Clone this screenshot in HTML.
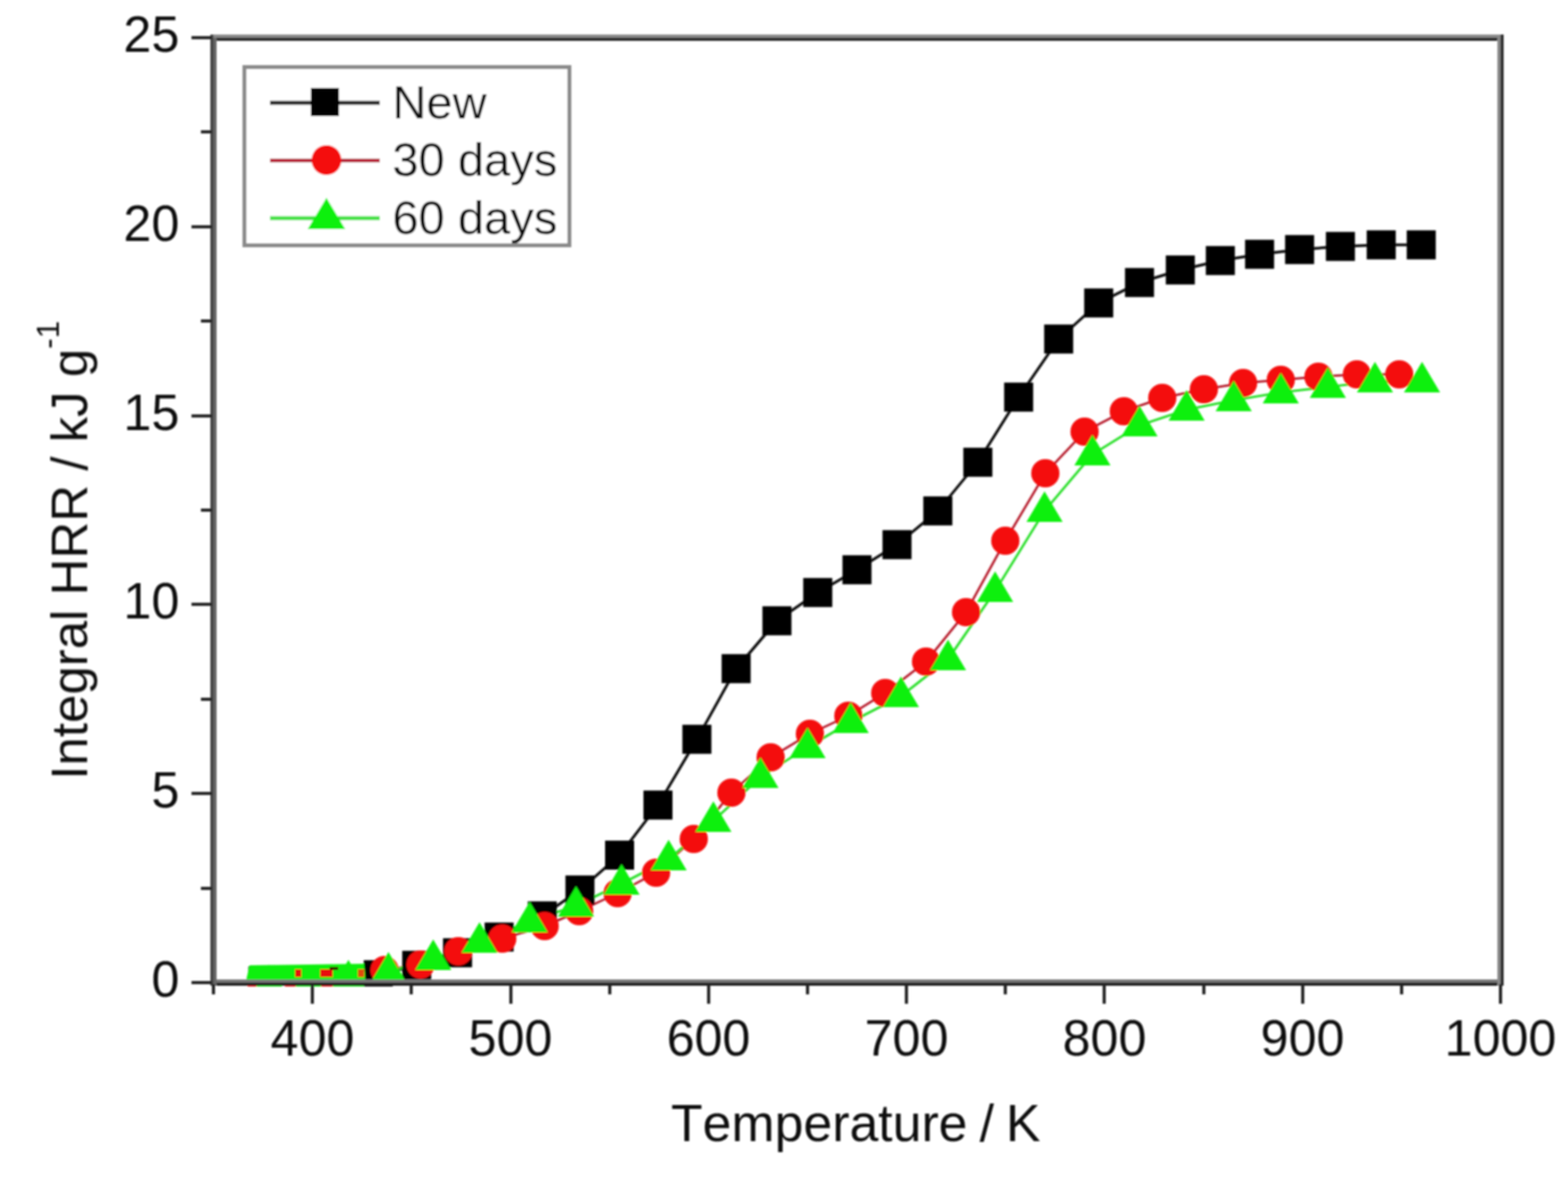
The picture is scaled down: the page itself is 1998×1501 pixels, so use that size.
<!DOCTYPE html><html><head><meta charset="utf-8"><title>Integral HRR vs Temperature</title>
<style>html,body{margin:0;padding:0;background:#fff;}svg{display:block;}text{font-family:"Liberation Sans",Arial,sans-serif;fill:#111;font-kerning:none;}</style></head><body>
<svg width="1998" height="1501" viewBox="0 0 1998 1501">
<rect x="0" y="0" width="1998" height="1501" fill="#fff"/>
<defs><clipPath id="pc"><rect x="250" y="40" width="1680" height="1217"/></clipPath><filter id="soft" filterUnits="userSpaceOnUse" x="0" y="0" width="1998" height="1501"><feGaussianBlur stdDeviation="0.8"/></filter></defs>
<g filter="url(#soft)">
<g clip-path="url(#pc)" fill="none" stroke-linejoin="round">
<polyline points="335,1250 383,1250 429,1249 482,1242 531,1230 583,1214 636,1194 691,1167 739,1134 789.5,1089.6 838.4,1025.8 888,942 938,852 990,791 1042,755 1092,726 1143,694 1195,651 1246,589 1298,506 1349,432 1400,386 1452,360 1504,344 1555,332 1605,324 1656,318 1708,314 1760,312 1811,312" stroke="#111" stroke-width="3.5"/>
<polyline points="333,1252 380,1250 418,1248 490,1236 536,1229 584,1212 640,1196 694,1180 738,1161 787,1138 836,1112 884,1069 932,1010 982,965 1032,935 1081,912 1128,883 1180,843 1231,780 1281,689 1332,603 1382,550 1432,524 1481,507 1534,496 1584,488 1632,484 1680,480 1729,477 1783,477" stroke="#b82030" stroke-width="3"/>
<polyline points="343,1254 393,1254 444,1248 495,1238 552,1222 611,1200 675,1174 734,1154 792,1126 852,1095 909,1046 969,990 1029,952 1084,920 1148,887 1208,840 1268,753 1331,651 1392,579 1452,542 1512,522 1572,510 1632,500 1692,493 1752,486 1812,486" stroke="#30e030" stroke-width="3.2"/>
</g>
<g clip-path="url(#pc)">
<g fill="#050505"><rect x="316.5" y="1231.5" width="37" height="37"/><rect x="364.5" y="1231.5" width="37" height="37"/><rect x="410.5" y="1230.5" width="37" height="37"/><rect x="463.5" y="1223.5" width="37" height="37"/><rect x="512.5" y="1211.5" width="37" height="37"/><rect x="564.5" y="1195.5" width="37" height="37"/><rect x="617.5" y="1175.5" width="37" height="37"/><rect x="672.5" y="1148.5" width="37" height="37"/><rect x="720.5" y="1115.5" width="37" height="37"/><rect x="771" y="1071.1" width="37" height="37"/><rect x="819.9" y="1007.3" width="37" height="37"/><rect x="869.5" y="923.5" width="37" height="37"/><rect x="919.5" y="833.5" width="37" height="37"/><rect x="971.5" y="772.5" width="37" height="37"/><rect x="1023.5" y="736.5" width="37" height="37"/><rect x="1073.5" y="707.5" width="37" height="37"/><rect x="1124.5" y="675.5" width="37" height="37"/><rect x="1176.5" y="632.5" width="37" height="37"/><rect x="1227.5" y="570.5" width="37" height="37"/><rect x="1279.5" y="487.5" width="37" height="37"/><rect x="1330.5" y="413.5" width="37" height="37"/><rect x="1381.5" y="367.5" width="37" height="37"/><rect x="1433.5" y="341.5" width="37" height="37"/><rect x="1485.5" y="325.5" width="37" height="37"/><rect x="1536.5" y="313.5" width="37" height="37"/><rect x="1586.5" y="305.5" width="37" height="37"/><rect x="1637.5" y="299.5" width="37" height="37"/><rect x="1689.5" y="295.5" width="37" height="37"/><rect x="1741.5" y="293.5" width="37" height="37"/><rect x="1792.5" y="293.5" width="37" height="37"/></g>
<g fill="#f40a0a"><circle cx="333" cy="1252" r="18"/><circle cx="380" cy="1250" r="18"/><circle cx="418" cy="1248" r="18"/><circle cx="490" cy="1236" r="18"/><circle cx="536" cy="1229" r="18"/><circle cx="584" cy="1212" r="18"/><circle cx="640" cy="1196" r="18"/><circle cx="694" cy="1180" r="18"/><circle cx="738" cy="1161" r="18"/><circle cx="787" cy="1138" r="18"/><circle cx="836" cy="1112" r="18"/><circle cx="884" cy="1069" r="18"/><circle cx="932" cy="1010" r="18"/><circle cx="982" cy="965" r="18"/><circle cx="1032" cy="935" r="18"/><circle cx="1081" cy="912" r="18"/><circle cx="1128" cy="883" r="18"/><circle cx="1180" cy="843" r="18"/><circle cx="1231" cy="780" r="18"/><circle cx="1281" cy="689" r="18"/><circle cx="1332" cy="603" r="18"/><circle cx="1382" cy="550" r="18"/><circle cx="1432" cy="524" r="18"/><circle cx="1481" cy="507" r="18"/><circle cx="1534" cy="496" r="18"/><circle cx="1584" cy="488" r="18"/><circle cx="1632" cy="484" r="18"/><circle cx="1680" cy="480" r="18"/><circle cx="1729" cy="477" r="18"/><circle cx="1783" cy="477" r="18"/></g>
<g fill="#10f010"><polygon points="343,1229 366,1268 320,1268"/><polygon points="393,1229 416,1268 370,1268"/><polygon points="444,1223 467,1262 421,1262"/><polygon points="495,1213 518,1252 472,1252"/><polygon points="552,1197 575,1236 529,1236"/><polygon points="611,1175 634,1214 588,1214"/><polygon points="675,1149 698,1188 652,1188"/><polygon points="734,1129 757,1168 711,1168"/><polygon points="792,1101 815,1140 769,1140"/><polygon points="852,1070 875,1109 829,1109"/><polygon points="909,1021 932,1060 886,1060"/><polygon points="969,965 992,1004 946,1004"/><polygon points="1029,927 1052,966 1006,966"/><polygon points="1084,895 1107,934 1061,934"/><polygon points="1148,862 1171,901 1125,901"/><polygon points="1208,815 1231,854 1185,854"/><polygon points="1268,728 1291,767 1245,767"/><polygon points="1331,626 1354,665 1308,665"/><polygon points="1392,554 1415,593 1369,593"/><polygon points="1452,517 1475,556 1429,556"/><polygon points="1512,497 1535,536 1489,536"/><polygon points="1572,485 1595,524 1549,524"/><polygon points="1632,475 1655,514 1609,514"/><polygon points="1692,468 1715,507 1669,507"/><polygon points="1752,461 1775,500 1729,500"/><polygon points="1812,461 1835,500 1789,500"/></g>
<polygon points="313,1252 318,1230 464,1228 466,1252" fill="#10f010"/>
<g fill="#e81010"><rect x="376" y="1235" width="8" height="10"/><rect x="408" y="1235" width="16" height="10"/><rect x="456" y="1235" width="8" height="10" fill="#e04a10"/></g>
<rect x="420" y="1232" width="11" height="4" fill="#300"/>
</g>
<g shape-rendering="crispEdges">
<rect x="268" y="44" width="1648" height="4" fill="#8a8a8a"/>
<rect x="268" y="48" width="1648" height="4" fill="#262626"/>
<rect x="268" y="1248" width="1648" height="4" fill="#777"/>
<rect x="268" y="1252" width="1648" height="4" fill="#1e1e1e"/>
<rect x="268" y="44" width="4" height="1212" fill="#444"/>
<rect x="272" y="48" width="4" height="1208" fill="#666"/>
<rect x="1908" y="48" width="4" height="1208" fill="#888"/>
<rect x="1912" y="44" width="4" height="1212" fill="#2a2a2a"/>
<rect x="244" y="1250" width="26" height="4" fill="#222"/>
<rect x="244" y="1009.2" width="26" height="4" fill="#222"/>
<rect x="244" y="768.4" width="26" height="4" fill="#222"/>
<rect x="244" y="527.6" width="26" height="4" fill="#222"/>
<rect x="244" y="286.8" width="26" height="4" fill="#222"/>
<rect x="244" y="46" width="26" height="4" fill="#222"/>
<rect x="256" y="1129.6" width="14" height="4" fill="#222"/>
<rect x="256" y="888.8" width="14" height="4" fill="#222"/>
<rect x="256" y="648" width="14" height="4" fill="#222"/>
<rect x="256" y="407.2" width="14" height="4" fill="#222"/>
<rect x="256" y="166.4" width="14" height="4" fill="#222"/>
<rect x="396.2" y="1254" width="4" height="25" fill="#222"/>
<rect x="648.5" y="1254" width="4" height="25" fill="#222"/>
<rect x="900.8" y="1254" width="4" height="25" fill="#222"/>
<rect x="1153.1" y="1254" width="4" height="25" fill="#222"/>
<rect x="1405.4" y="1254" width="4" height="25" fill="#222"/>
<rect x="1657.7" y="1254" width="4" height="25" fill="#222"/>
<rect x="1910" y="1254" width="4" height="25" fill="#222"/>
<rect x="270" y="1254" width="4" height="13" fill="#222"/>
<rect x="522.3" y="1254" width="4" height="13" fill="#222"/>
<rect x="774.6" y="1254" width="4" height="13" fill="#222"/>
<rect x="1026.9" y="1254" width="4" height="13" fill="#222"/>
<rect x="1279.2" y="1254" width="4" height="13" fill="#222"/>
<rect x="1531.5" y="1254" width="4" height="13" fill="#222"/>
<rect x="1783.8" y="1254" width="4" height="13" fill="#222"/>
</g>
<g font-size="64">
<text x="228.5" y="1270" text-anchor="end">0</text>
<text x="228.5" y="1029.2" text-anchor="end">5</text>
<text x="228.5" y="788.4" text-anchor="end">10</text>
<text x="228.5" y="547.6" text-anchor="end">15</text>
<text x="228.5" y="306.8" text-anchor="end">20</text>
<text x="228.5" y="66" text-anchor="end">25</text>
<text x="398.2" y="1345" text-anchor="middle">400</text>
<text x="650.5" y="1345" text-anchor="middle">500</text>
<text x="902.8" y="1345" text-anchor="middle">600</text>
<text x="1155.1" y="1345" text-anchor="middle">700</text>
<text x="1407.4" y="1345" text-anchor="middle">800</text>
<text x="1659.7" y="1345" text-anchor="middle">900</text>
<text x="1912" y="1345" text-anchor="middle">1000</text>
</g>
<text x="855" y="1454" font-size="66" word-spacing="-3">Temperature / K</text>
<text transform="translate(111,993.5) rotate(-90)" font-size="65">Integral HRR / kJ g<tspan font-size="40" dy="-36">-1</tspan></text>
<rect x="311.5" y="85.5" width="414" height="227" fill="#fff" stroke="#8a8a8a" stroke-width="5"/>
<line x1="344" y1="131" x2="484" y2="131" stroke="#222" stroke-width="5"/>
<rect x="396" y="112" width="36" height="36" fill="#050505"/>
<line x1="344" y1="204.5" x2="484" y2="204.5" stroke="#b8283a" stroke-width="5"/>
<circle cx="416" cy="204" r="19" fill="#f40a0a"/>
<line x1="344" y1="278" x2="484" y2="278" stroke="#40e040" stroke-width="5"/>
<polygon points="416,252 440,292 392,292" fill="#10f010"/>
<g font-size="60">
<text x="500" y="150.5">New</text>
<text x="500" y="224">30 days</text>
<text x="500" y="298">60 days</text>
</g>
</g>
</svg></body></html>
